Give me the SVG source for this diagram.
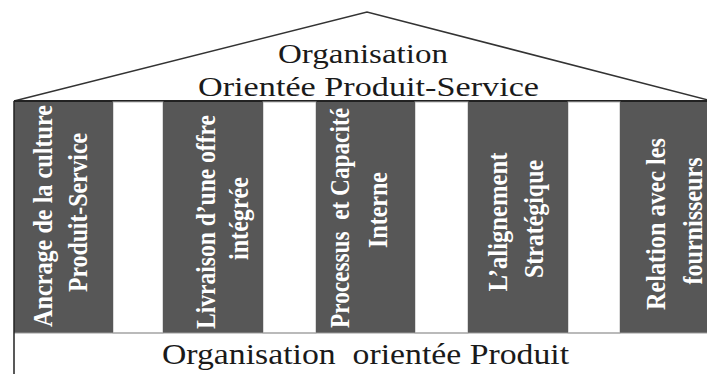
<svg xmlns="http://www.w3.org/2000/svg" width="707" height="374" viewBox="0 0 707 374">
<style>
.pillar{fill:#575757}
.gap{fill:#ffffff;stroke:#b5b5b5;stroke-width:1}
.ptxt{font-family:'Liberation Serif','Times New Roman',serif;font-weight:bold;font-size:28px;fill:#ffffff;text-anchor:middle}
.ttl{font-family:'Liberation Serif','Times New Roman',serif;font-size:27px;fill:#1a1a1a;text-anchor:middle}
.base{font-family:'Liberation Serif','Times New Roman',serif;font-size:29px;fill:#1a1a1a;text-anchor:middle;white-space:pre}
</style>
<rect width="707" height="374" fill="#ffffff"/>
<g id="roof">
<polyline points="14,101 367,12 712,101" fill="none" stroke="#333" stroke-width="1.5"/>
<line x1="14" y1="101" x2="707" y2="101" stroke="#222" stroke-width="2"/>
<text class="ttl" x="363" y="63" textLength="170" lengthAdjust="spacingAndGlyphs">Organisation</text>
<text class="ttl" x="368.5" y="96" textLength="341" lengthAdjust="spacingAndGlyphs">Orientée Produit-Service</text>
</g>
<g id="gaps">
<rect class="gap" x="113" y="102" width="50" height="231"/>
<rect class="gap" x="263" y="102" width="53" height="231"/>
<rect class="gap" x="415" y="102" width="53" height="231"/>
<rect class="gap" x="568" y="102" width="52" height="231"/>
</g>
<g id="pillar1">
<rect class="pillar" x="14" y="102" width="99" height="231"/>
<text class="ptxt" transform="translate(52,216) rotate(-90)" textLength="222" lengthAdjust="spacingAndGlyphs">Ancrage de la culture</text>
<text class="ptxt" transform="translate(87,212.5) rotate(-90)" textLength="159" lengthAdjust="spacingAndGlyphs">Produit-Service</text>
</g>
<g id="pillar2">
<rect class="pillar" x="163" y="102" width="100" height="231"/>
<text class="ptxt" transform="translate(215,222) rotate(-90)" textLength="214" lengthAdjust="spacingAndGlyphs">Livraison d’une offre</text>
<text class="ptxt" transform="translate(248,218.5) rotate(-90)" textLength="83" lengthAdjust="spacingAndGlyphs">intégrée</text>
</g>
<g id="pillar3">
<rect class="pillar" x="316" y="102" width="99" height="231"/>
<text class="ptxt" transform="translate(349,218) rotate(-90)" textLength="220" lengthAdjust="spacingAndGlyphs" style="white-space:pre">Processus  et Capacité</text>
<text class="ptxt" transform="translate(387,210) rotate(-90)" textLength="76" lengthAdjust="spacingAndGlyphs">Interne</text>
</g>
<g id="pillar4">
<rect class="pillar" x="468" y="102" width="100" height="231"/>
<text class="ptxt" transform="translate(507,222) rotate(-90)" textLength="139" lengthAdjust="spacingAndGlyphs">L’alignement</text>
<text class="ptxt" transform="translate(543,219) rotate(-90)" textLength="118" lengthAdjust="spacingAndGlyphs">Stratégique</text>
</g>
<g id="pillar5">
<rect class="pillar" x="620" y="102" width="87" height="231"/>
<text class="ptxt" transform="translate(665,224) rotate(-90)" textLength="172" lengthAdjust="spacingAndGlyphs">Relation avec les</text>
<text class="ptxt" transform="translate(702,221) rotate(-90)" textLength="127" lengthAdjust="spacingAndGlyphs">fournisseurs</text>
</g>
<g id="base">
<line x1="14" y1="333" x2="707" y2="333" stroke="#9a9a9a" stroke-width="1"/>
<line x1="14" y1="101" x2="14" y2="374" stroke="#222" stroke-width="1.5"/>
<text class="base" x="365.5" y="364" textLength="407" lengthAdjust="spacingAndGlyphs">Organisation  orientée Produit</text>
</g>
</svg>
